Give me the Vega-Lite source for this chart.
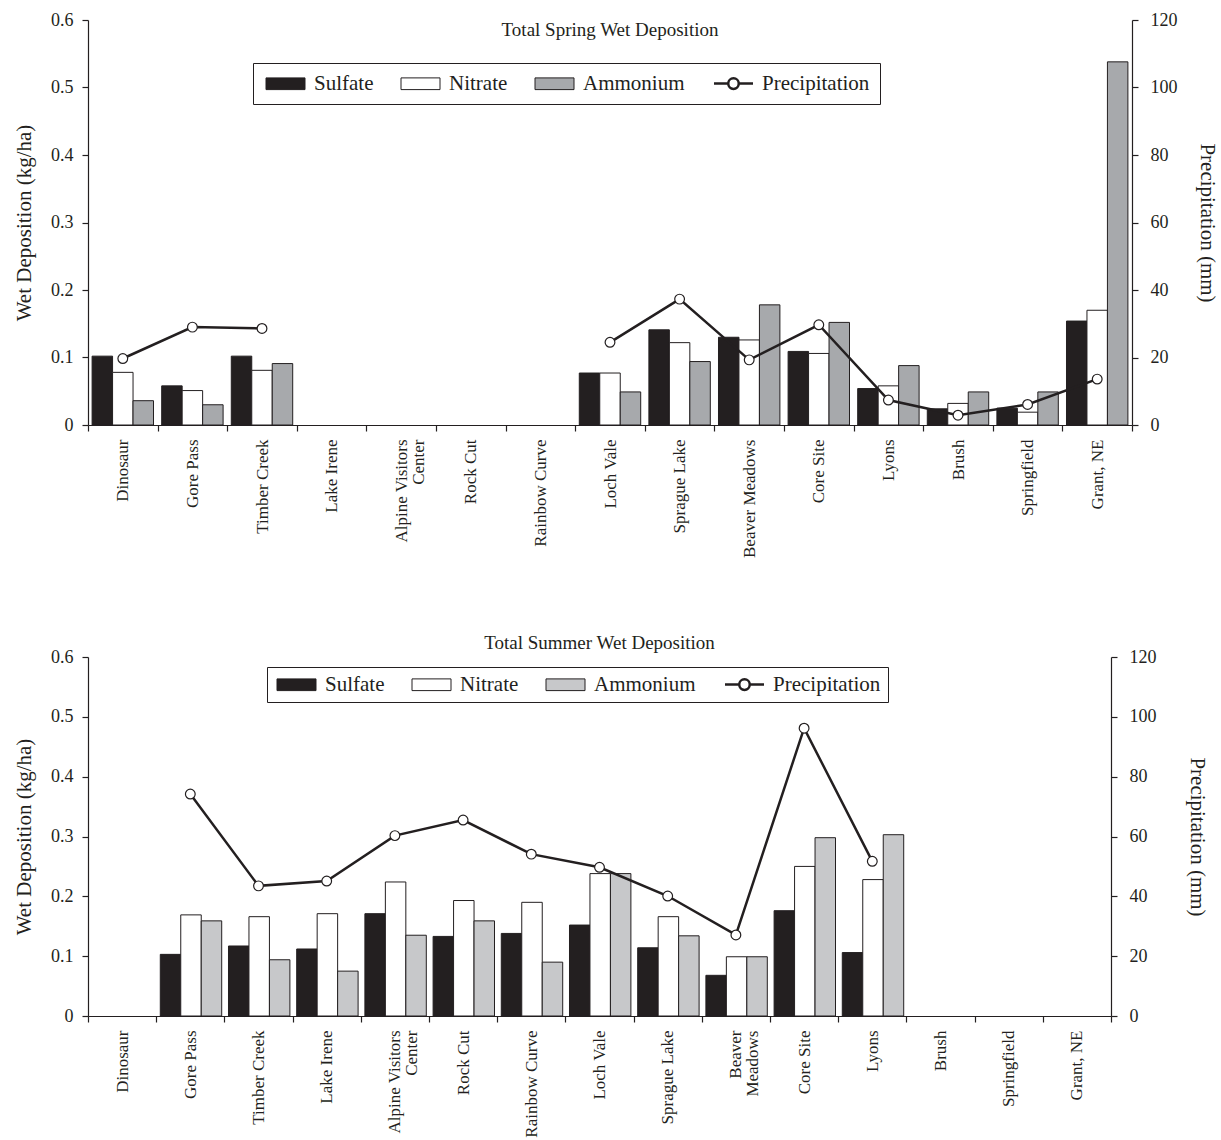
{
  "$schema": "https://vega.github.io/schema/vega-lite/v6.json",
  "background": "white",
  "padding": {"left": 13, "top": 11, "right": 5, "bottom": 0},
  "config": {
    "font": "Liberation Serif",
    "view": {"stroke": null},
    "axis": {
      "labelFont": "Liberation Serif", "titleFont": "Liberation Serif",
      "labelColor": "#231f20", "titleColor": "#231f20",
      "domainColor": "#231f20", "tickColor": "#231f20",
      "grid": false, "titleFontWeight": "normal",
      "labelFontSize": 18, "titleFontSize": 21, "tickSize": 6,
      "domainWidth": 1.2, "tickWidth": 1.2
    },
    "title": {"font": "Liberation Serif", "fontSize": 19, "fontWeight": "normal", "color": "#231f20"},
    "legend": {
      "labelFont": "Liberation Serif", "labelFontSize": 21, "labelColor": "#231f20",
      "strokeColor": "#231f20", "symbolStrokeColor": "#231f20", "symbolStrokeWidth": 1,
      "symbolSize": 1521, "labelOffset": 18, "symbolOffset": 12, "columnPadding": 24
    }
  },
  "datasets": {
    "spring": [
      {"site": "Dinosaur", "Sulfate": 0.102, "Nitrate": 0.078, "Ammonium": 0.036, "Precipitation": 19.7},
      {"site": "Gore Pass", "Sulfate": 0.058, "Nitrate": 0.051, "Ammonium": 0.030, "Precipitation": 29.0},
      {"site": "Timber Creek", "Sulfate": 0.102, "Nitrate": 0.081, "Ammonium": 0.091, "Precipitation": 28.6},
      {"site": "Lake Irene", "Sulfate": null, "Nitrate": null, "Ammonium": null, "Precipitation": null},
      {"site": "Alpine Visitors Center", "Sulfate": null, "Nitrate": null, "Ammonium": null, "Precipitation": null},
      {"site": "Rock Cut", "Sulfate": null, "Nitrate": null, "Ammonium": null, "Precipitation": null},
      {"site": "Rainbow Curve", "Sulfate": null, "Nitrate": null, "Ammonium": null, "Precipitation": null},
      {"site": "Loch Vale", "Sulfate": 0.077, "Nitrate": 0.077, "Ammonium": 0.049, "Precipitation": 24.5},
      {"site": "Sprague Lake", "Sulfate": 0.141, "Nitrate": 0.122, "Ammonium": 0.094, "Precipitation": 37.3},
      {"site": "Beaver Meadows", "Sulfate": 0.130, "Nitrate": 0.126, "Ammonium": 0.178, "Precipitation": 19.3},
      {"site": "Core Site", "Sulfate": 0.109, "Nitrate": 0.106, "Ammonium": 0.152, "Precipitation": 29.7},
      {"site": "Lyons", "Sulfate": 0.054, "Nitrate": 0.058, "Ammonium": 0.088, "Precipitation": 7.4},
      {"site": "Brush", "Sulfate": 0.024, "Nitrate": 0.032, "Ammonium": 0.049, "Precipitation": 2.9},
      {"site": "Springfield", "Sulfate": 0.025, "Nitrate": 0.019, "Ammonium": 0.049, "Precipitation": 6.1},
      {"site": "Grant, NE", "Sulfate": 0.154, "Nitrate": 0.170, "Ammonium": 0.538, "Precipitation": 13.6}
    ],
    "summer": [
      {"site": "Dinosaur", "Sulfate": null, "Nitrate": null, "Ammonium": null, "Precipitation": null},
      {"site": "Gore Pass", "Sulfate": 0.103, "Nitrate": 0.169, "Ammonium": 0.159, "Precipitation": 74.2},
      {"site": "Timber Creek", "Sulfate": 0.117, "Nitrate": 0.166, "Ammonium": 0.094, "Precipitation": 43.5},
      {"site": "Lake Irene", "Sulfate": 0.112, "Nitrate": 0.171, "Ammonium": 0.075, "Precipitation": 45.1},
      {"site": "Alpine Visitors Center", "Sulfate": 0.171, "Nitrate": 0.224, "Ammonium": 0.135, "Precipitation": 60.3},
      {"site": "Rock Cut", "Sulfate": 0.133, "Nitrate": 0.193, "Ammonium": 0.159, "Precipitation": 65.5},
      {"site": "Rainbow Curve", "Sulfate": 0.138, "Nitrate": 0.190, "Ammonium": 0.090, "Precipitation": 54.1},
      {"site": "Loch Vale", "Sulfate": 0.152, "Nitrate": 0.238, "Ammonium": 0.238, "Precipitation": 49.7},
      {"site": "Sprague Lake", "Sulfate": 0.114, "Nitrate": 0.166, "Ammonium": 0.134, "Precipitation": 40.1},
      {"site": "Beaver Meadows", "Sulfate": 0.068, "Nitrate": 0.099, "Ammonium": 0.099, "Precipitation": 27.1},
      {"site": "Core Site", "Sulfate": 0.176, "Nitrate": 0.250, "Ammonium": 0.298, "Precipitation": 96.2},
      {"site": "Lyons", "Sulfate": 0.106, "Nitrate": 0.228, "Ammonium": 0.303, "Precipitation": 51.7},
      {"site": "Brush", "Sulfate": null, "Nitrate": null, "Ammonium": null, "Precipitation": null},
      {"site": "Springfield", "Sulfate": null, "Nitrate": null, "Ammonium": null, "Precipitation": null},
      {"site": "Grant, NE", "Sulfate": null, "Nitrate": null, "Ammonium": null, "Precipitation": null}
    ]
  },
  "resolve": {"scale": {"fill": "independent"}, "legend": {"fill": "independent"}},
  "spacing": 76,
  "vconcat": [
    {
      "width": 1044, "height": 405,
      "data": {"name": "spring"},
      "title": {"text": "Total Spring Wet Deposition", "offset": -29, "anchor": "middle", "frame": "group"},
      "resolve": {"scale": {"y": "independent"}},
      "layer": [
        {
          "transform": [{"fold": ["Sulfate", "Nitrate", "Ammonium"], "as": ["ion", "value"]}],
          "mark": {"type": "bar", "stroke": "#231f20", "strokeWidth": 1},
          "encoding": {
            "x": {"field": "site", "type": "nominal",
              "sort": ["Dinosaur", "Gore Pass", "Timber Creek", "Lake Irene", "Alpine Visitors Center", "Rock Cut", "Rainbow Curve", "Loch Vale", "Sprague Lake", "Beaver Meadows", "Core Site", "Lyons", "Brush", "Springfield", "Grant, NE"],
              "scale": {"domain": ["Dinosaur", "Gore Pass", "Timber Creek", "Lake Irene", "Alpine Visitors Center", "Rock Cut", "Rainbow Curve", "Loch Vale", "Sprague Lake", "Beaver Meadows", "Core Site", "Lyons", "Brush", "Springfield", "Grant, NE"], "paddingInner": 0, "paddingOuter": 0},
              "axis": {"title": null, "tickBand": "extent", "labelAngle": 270, "labelFontSize": 17, "labelPadding": 8, "labelOverlap": false, "labelLineHeight": 17,
                "labelExpr": "datum.value === 'Alpine Visitors Center' ? ['Alpine Visitors', 'Center'] : datum.value"}},
            "xOffset": {"field": "ion", "type": "nominal", "sort": ["Sulfate", "Nitrate", "Ammonium"],
              "scale": {"domain": ["Sulfate", "Nitrate", "Ammonium"], "paddingInner": 0, "paddingOuter": 0.2}},
            "y": {"field": "value", "type": "quantitative",
              "scale": {"domain": [0, 0.6], "nice": false},
              "axis": {"title": "Wet Deposition (kg/ha)", "orient": "left", "tickCount": 6, "format": "~g", "labelPadding": 9, "titlePadding": 16}},
            "fill": {"field": "ion", "type": "nominal",
              "scale": {"domain": ["Sulfate", "Nitrate", "Ammonium", "Precipitation"], "range": ["#231f20", "#ffffff", "#a7a9ac", "#ffffff"]},
              "legend": {"title": null, "orient": "none", "legendX": 165, "legendY": 43, "direction": "horizontal", "padding": 10,
                "encode": {"symbols": {"update": {
                  "shape": {"signal": "datum.value === 'Precipitation' ? 'M-1,0H-0.27M0.27,0H1M0.27,0A0.27,0.27,0,1,1,-0.27,0A0.27,0.27,0,1,1,0.27,0' : 'M-1,-0.3H1V0.3H-1Z'"},
                  "strokeWidth": {"signal": "datum.value === 'Precipitation' ? 2.5 : 1"}}}}}}
          }
        },
        {
          "mark": {"type": "line", "color": "#231f20", "strokeWidth": 2.5, "invalid": "break-paths-show-domains",
            "point": {"filled": true, "fill": "white", "stroke": "#231f20", "strokeWidth": 1.2, "size": 95}},
          "encoding": {
            "x": {"field": "site", "type": "nominal",
              "sort": ["Dinosaur", "Gore Pass", "Timber Creek", "Lake Irene", "Alpine Visitors Center", "Rock Cut", "Rainbow Curve", "Loch Vale", "Sprague Lake", "Beaver Meadows", "Core Site", "Lyons", "Brush", "Springfield", "Grant, NE"]},
            "y": {"field": "Precipitation", "type": "quantitative",
              "scale": {"domain": [0, 120], "nice": false},
              "axis": {"title": "Precipitation (mm)", "orient": "right", "tickCount": 6, "labelPadding": 12, "titlePadding": 19}}
          }
        }
      ]
    },
    {
      "width": 1023, "height": 359,
      "data": {"name": "summer"},
      "title": {"text": "Total Summer Wet Deposition", "offset": -5, "anchor": "middle", "frame": "group"},
      "resolve": {"scale": {"y": "independent"}},
      "layer": [
        {
          "transform": [{"fold": ["Sulfate", "Nitrate", "Ammonium"], "as": ["ion", "value"]}],
          "mark": {"type": "bar", "stroke": "#231f20", "strokeWidth": 1},
          "encoding": {
            "x": {"field": "site", "type": "nominal",
              "sort": ["Dinosaur", "Gore Pass", "Timber Creek", "Lake Irene", "Alpine Visitors Center", "Rock Cut", "Rainbow Curve", "Loch Vale", "Sprague Lake", "Beaver Meadows", "Core Site", "Lyons", "Brush", "Springfield", "Grant, NE"],
              "scale": {"domain": ["Dinosaur", "Gore Pass", "Timber Creek", "Lake Irene", "Alpine Visitors Center", "Rock Cut", "Rainbow Curve", "Loch Vale", "Sprague Lake", "Beaver Meadows", "Core Site", "Lyons", "Brush", "Springfield", "Grant, NE"], "paddingInner": 0, "paddingOuter": 0},
              "axis": {"title": null, "tickBand": "extent", "labelAngle": 270, "labelFontSize": 17, "labelPadding": 8, "labelOverlap": false, "labelLineHeight": 17,
                "labelExpr": "datum.value === 'Alpine Visitors Center' ? ['Alpine Visitors', 'Center'] : datum.value === 'Beaver Meadows' ? ['Beaver', 'Meadows'] : datum.value"}},
            "xOffset": {"field": "ion", "type": "nominal", "sort": ["Sulfate", "Nitrate", "Ammonium"],
              "scale": {"domain": ["Sulfate", "Nitrate", "Ammonium"], "paddingInner": 0, "paddingOuter": 0.2}},
            "y": {"field": "value", "type": "quantitative",
              "scale": {"domain": [0, 0.6], "nice": false},
              "axis": {"title": "Wet Deposition (kg/ha)", "orient": "left", "tickCount": 6, "format": "~g", "labelPadding": 9, "titlePadding": 16}},
            "fill": {"field": "ion", "type": "nominal",
              "scale": {"domain": ["Sulfate", "Nitrate", "Ammonium", "Precipitation"], "range": ["#231f20", "#ffffff", "#c7c8ca", "#ffffff"]},
              "legend": {"title": null, "orient": "none", "legendX": 179, "legendY": 10, "direction": "horizontal", "padding": 7,
                "encode": {"symbols": {"update": {
                  "shape": {"signal": "datum.value === 'Precipitation' ? 'M-1,0H-0.27M0.27,0H1M0.27,0A0.27,0.27,0,1,1,-0.27,0A0.27,0.27,0,1,1,0.27,0' : 'M-1,-0.3H1V0.3H-1Z'"},
                  "strokeWidth": {"signal": "datum.value === 'Precipitation' ? 2.5 : 1"}}}}}}
          }
        },
        {
          "mark": {"type": "line", "color": "#231f20", "strokeWidth": 2.5, "invalid": "break-paths-show-domains",
            "point": {"filled": true, "fill": "white", "stroke": "#231f20", "strokeWidth": 1.2, "size": 95}},
          "encoding": {
            "x": {"field": "site", "type": "nominal",
              "sort": ["Dinosaur", "Gore Pass", "Timber Creek", "Lake Irene", "Alpine Visitors Center", "Rock Cut", "Rainbow Curve", "Loch Vale", "Sprague Lake", "Beaver Meadows", "Core Site", "Lyons", "Brush", "Springfield", "Grant, NE"]},
            "y": {"field": "Precipitation", "type": "quantitative",
              "scale": {"domain": [0, 120], "nice": false},
              "axis": {"title": "Precipitation (mm)", "orient": "right", "tickCount": 6, "labelPadding": 12, "titlePadding": 30}}
          }
        }
      ]
    }
  ]
}
